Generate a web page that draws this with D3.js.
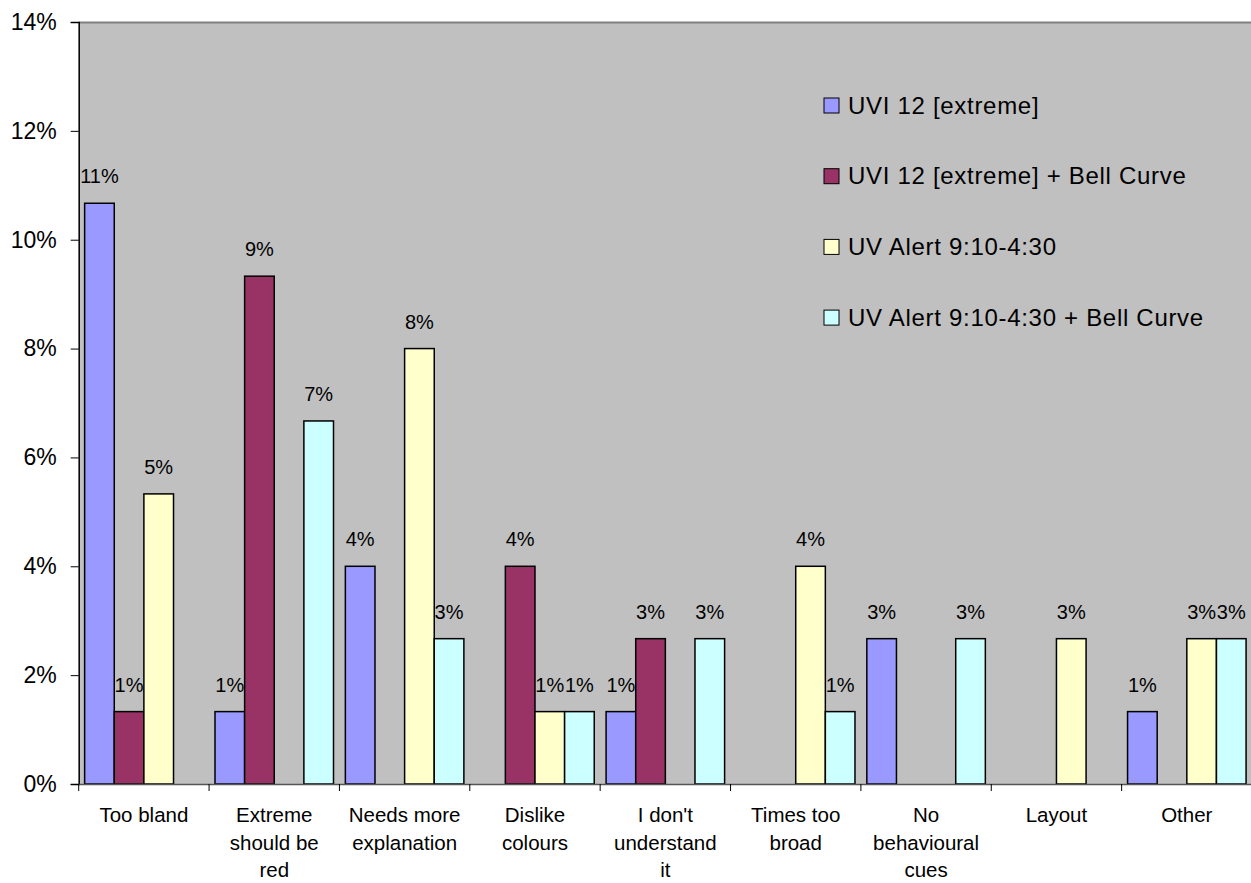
<!DOCTYPE html>
<html>
<head>
<meta charset="utf-8">
<script src="https://cdn.jsdelivr.net/npm/d3@7"></script>
<style>
  html, body { margin: 0; padding: 0; background: #ffffff; }
  svg { display: block; font-family: "Liberation Sans", Arial, sans-serif; }
</style>
</head>
<body>
<svg id="chart" width="1251" height="883"></svg>
<script>
// Reasons given for disliking each UV design (share of respondents, %)
const categories = [
  "Too bland", "Extreme should be red", "Needs more explanation", "Dislike colours",
  "I don't understand it", "Times too broad", "No behavioural cues", "Layout", "Other"
];
const seriesNames = [
  "UVI 12 [extreme]", "UVI 12 [extreme] + Bell Curve",
  "UV Alert 9:10-4:30", "UV Alert 9:10-4:30 + Bell Curve"
];
const uvi12 =          [10.67, 1.33, 4.00, 0.00, 1.33, 0.00, 2.67, 0.00, 1.33];
const uvi12Bell =      [1.33, 9.33, 0.00, 4.00, 2.67, 0.00, 0.00, 0.00, 0.00];
const uvAlert =        [5.33, 0.00, 8.00, 1.33, 0.00, 4.00, 0.00, 2.67, 2.67];
const uvAlertBell =    [0.00, 6.67, 2.67, 1.33, 2.67, 1.33, 2.67, 0.00, 2.67];
const seriesColors = ["#9999FF", "#993366", "#FFFFCC", "#CCFFFF"];
const yTicks = [0, 2, 4, 6, 8, 10, 12, 14];

const seriesValues = [uvi12, uvi12Bell, uvAlert, uvAlertBell];

const svg = d3.select("#chart");
const plot = { left: 78.7, top: 22, right: 1252, bottom: 784 };

const x = d3.scaleBand().domain(categories).range([plot.left, plot.right]).padding(0);
const xs = d3.scaleBand().domain(d3.range(seriesNames.length))
  .range([0, x.bandwidth()]).paddingInner(0).paddingOuter(0.2);
const y = d3.scaleLinear().domain([0, 14]).range([plot.bottom, plot.top]);

// plot background
svg.append("rect")
  .attr("x", plot.left).attr("y", plot.top)
  .attr("width", plot.right - plot.left).attr("height", plot.bottom - plot.top)
  .attr("fill", "#C0C0C0");
svg.append("line")
  .attr("x1", plot.left).attr("x2", plot.right)
  .attr("y1", plot.top + 0.5).attr("y2", plot.top + 0.5)
  .attr("stroke", "#808080").attr("stroke-width", 2);

// bars
const groups = svg.append("g").selectAll("g")
  .data(categories).join("g")
  .attr("transform", d => `translate(${x(d)},0)`);

groups.each(function(cat, ci) {
  const g = d3.select(this);
  seriesValues.forEach((vals, si) => {
    const v = vals[ci];
    if (v <= 0) return;
    g.append("rect")
      .attr("x", xs(si)).attr("y", y(v))
      .attr("width", xs.bandwidth()).attr("height", y(0) - y(v))
      .attr("fill", seriesColors[si])
      .attr("stroke", "#000").attr("stroke-width", 1.5);
  });
});

// value labels
groups.each(function(cat, ci) {
  const g = d3.select(this);
  seriesValues.forEach((vals, si) => {
    const v = vals[ci];
    if (v <= 0) return;
    g.append("text")
      .attr("x", xs(si) + xs.bandwidth() / 2)
      .attr("y", y(v) - 20)
      .attr("text-anchor", "middle")
      .attr("font-size", 20)
      .attr("fill", "#000")
      .text(d3.format(".0f")(v) + "%");
  });
});

// y axis
const yAxis = d3.axisLeft(y).tickValues(yTicks).tickSize(8).tickPadding(14)
  .tickFormat(d => d + "%");
const yg = svg.append("g").attr("transform", `translate(${plot.left},0)`).call(yAxis);
yg.select(".domain").attr("stroke", "#000").attr("stroke-width", 1.5);
yg.selectAll(".tick line").attr("stroke", "#000");
yg.selectAll(".tick text").attr("font-size", 23).attr("fill", "#000")
  .attr("font-family", "Liberation Sans, Arial, sans-serif");

// x axis
const xAxis = d3.axisBottom(x).tickSize(0).tickFormat("");
const xg = svg.append("g").attr("transform", `translate(0,${plot.bottom})`).call(xAxis);
xg.select(".domain").attr("stroke", "#555").attr("stroke-width", 1.5);
// category separators
svg.append("g").selectAll("line")
  .data(categories).join("line")
  .attr("x1", d => x(d)).attr("x2", d => x(d))
  .attr("y1", plot.bottom).attr("y2", plot.bottom + 7)
  .attr("stroke", "#000");

// wrapped category labels
const catFont = 20.5;
const measure = svg.append("text").attr("font-size", catFont).attr("visibility", "hidden");
function wrap(str, maxW) {
  const words = str.split(" ");
  const lines = [];
  let cur = "";
  words.forEach(w => {
    const t = cur ? cur + " " + w : w;
    measure.text(t);
    if (cur && measure.node().getComputedTextLength() > maxW) {
      lines.push(cur); cur = w;
    } else cur = t;
  });
  if (cur) lines.push(cur);
  return lines;
}
categories.forEach(c => {
  const lines = wrap(c, 115);
  const t = svg.append("text")
    .attr("text-anchor", "middle")
    .attr("font-size", catFont)
    .attr("fill", "#000");
  lines.forEach((ln, i) => {
    t.append("tspan")
      .attr("x", x(c) + x.bandwidth() / 2)
      .attr("y", 822 + i * 27.5)
      .text(ln);
  });
});
measure.remove();

// legend
const legend = svg.append("g").attr("transform", "translate(824,98)");
seriesNames.forEach((name, i) => {
  const row = legend.append("g").attr("transform", `translate(0,${i * 70.7})`);
  row.append("rect").attr("x", 0).attr("y", 0).attr("width", 15).attr("height", 15)
    .attr("fill", seriesColors[i]).attr("stroke", "#000").attr("stroke-width", 1);
  row.append("text").attr("x", 24).attr("y", 15.5)
    .attr("font-size", 24).attr("letter-spacing", 0.7)
    .attr("fill", "#000").text(name);
});
</script>
</body>
</html>
